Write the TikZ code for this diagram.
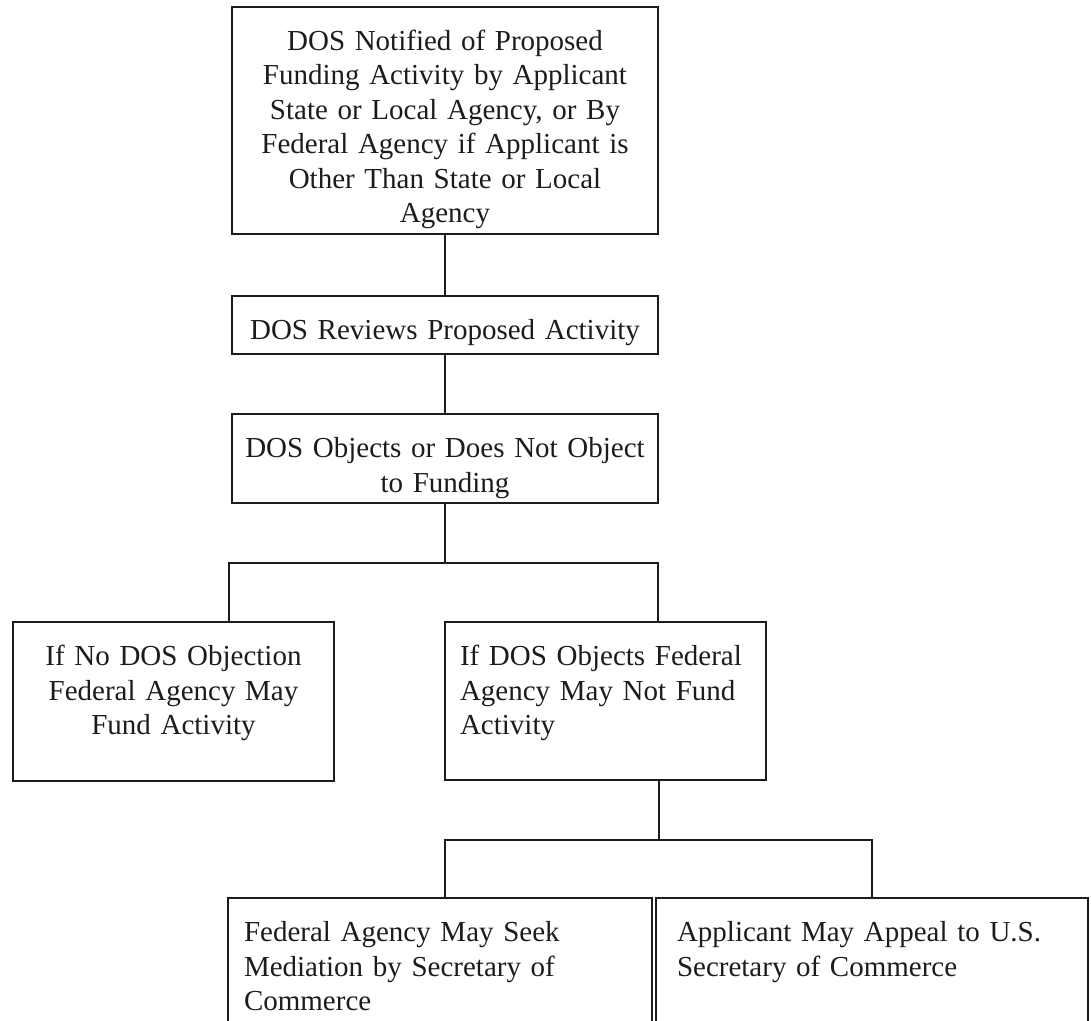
\documentclass[tikz,border=0pt]{standalone}
\usepackage{fontspec}
\setmainfont{Liberation Serif}
\usepackage{tikz}
\usetikzlibrary{calc}
\definecolor{ink}{HTML}{1C1C1C}
\tikzset{
  stage/.style={draw=ink,line width=1pt,outer sep=0pt,anchor=north west,inner ysep=0pt,
    text height=21.75pt,text=ink,font=\fontsize{14.5}{17.25}\selectfont},
  link/.style={draw=ink,line width=1pt},
}

\begin{document}
\begin{tikzpicture}[x=0.5pt,y=-0.5pt]
\useasboundingbox (0,0) rectangle (1091,1021);
\clip (0,0) rectangle (1091,1021);
% upper column: the three boxes share x = 232..658
\node[stage,inner xsep=4pt,text width=205pt,text depth=91.75pt,align=center] (notify) at (232,7)
  {DOS Notified of Proposed\\ Funding Activity by Applicant\\ State or Local Agency, or By\\
   Federal Agency if Applicant is\\ Other Than State or Local\\ Agency};
\node[stage,inner xsep=4pt,text width=205pt,text depth=7.25pt,align=center] (review) at (232,296)
  {DOS Reviews Proposed Activity};
\node[stage,inner xsep=4pt,text width=205pt,text depth=22.75pt,align=center] (objects) at (232,414)
  {DOS Objects or Does Not Object\\ to Funding};
% middle row
\node[stage,inner xsep=4pt,text width=152.5pt,text depth=57.75pt,align=center] (nofund) at (13,622)
  {If No DOS Objection\\ Federal Agency May\\ Fund Activity};
\node[stage,inner xsep=7.5pt,text width=145.5pt,text depth=57.25pt,align=left] (fundban) at (445,622)
  {If DOS Objects Federal\\ Agency May Not Fund\\ Activity};
% bottom row, cut off by the page edge
\node[stage,inner xsep=8pt,text width=196pt,text depth=58.25pt,align=left] (mediate) at (228,898)
  {Federal Agency May Seek\\ Mediation by Secretary of\\ Commerce};
\node[stage,inner xsep=10.5pt,text width=195pt,text depth=58.25pt,align=left] (appeal) at (656,898)
  {Applicant May Appeal to U.S.\\ Secretary of Commerce};
% connectors
\coordinate (fork1l) at (229,563);
\coordinate (fork1r) at (658,563);
\coordinate (fork1) at (objects.south |- fork1l);
\coordinate (fork2l) at (445,840);
\coordinate (fork2r) at (appeal.north |- fork2l);
\coordinate (fork2) at (659,840);
\draw[link] (notify) -- (review);
\draw[link] (review) -- (objects);
\draw[link] (objects.south) -- (fork1);
\draw[link] (fork1l |- nofund.north) -- (fork1l) -- (fork1r) -- (fork1r |- fundban.north);
\draw[link] (fork2 |- fundban.south) -- (fork2);
\draw[link] (fork2l |- mediate.north) -- (fork2l) -- (fork2r) -- (appeal.north);
\end{tikzpicture}
\end{document}
